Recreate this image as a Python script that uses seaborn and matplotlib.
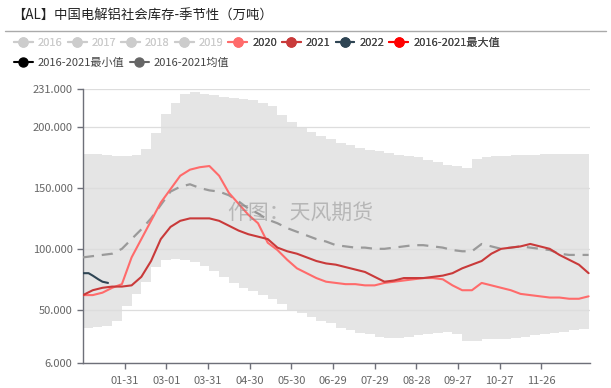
import pandas as pd
import matplotlib
matplotlib.use("Agg")
import matplotlib.pyplot as plt
from matplotlib.lines import Line2D
import seaborn as sns

# weekly sample points (day index in a leap-year category axis, 0 = 01-01)
days = list(range(0, 365, 7))

max_vals = [178, 178, 177, 176, 176, 177, 182, 195, 211, 220, 227, 229, 227, 226,
            225, 224, 223, 222, 220, 217, 210, 204, 200, 196, 193, 190, 187, 185,
            183, 181, 180, 179, 177, 176, 175, 173, 171, 169, 168, 166, 174, 175,
            176, 176, 177, 177, 177, 178, 178, 178, 178, 178, 179]
min_vals = [35, 36, 37, 41, 53, 63, 73, 85, 91, 92, 91, 89, 86, 82,
            77, 72, 68, 65, 62, 59, 55, 50, 47, 44, 41, 39, 35, 33,
            31, 30, 28, 27, 27, 28, 29, 30, 31, 32, 30, 24, 24, 26,
            26, 26, 27, 28, 29, 30, 31, 32, 33, 34, 35]
mean_vals = [93, 94, 95, 96, 100, 108, 116, 125, 136, 147, 151, 153, 150, 148,
             147, 144, 139, 133, 129, 124, 121, 117, 114, 111, 108, 106, 103, 102,
             101, 101, 100, 100, 101, 102, 103, 103, 102, 101, 99, 98, 98, 104,
             102, 100, 101, 102, 101, 100, 99, 96, 95, 95, 95]
y2020 = [62, 62, 64, 68, 71, 93, 108, 123, 138, 149, 160, 165, 167, 168,
         160, 146, 137, 128, 121, 105, 99, 91, 84, 80, 76, 73, 72, 71,
         71, 70, 70, 72, 73, 74, 75, 76, 76, 75, 70, 66, 66, 72,
         70, 68, 66, 63, 62, 61, 60, 60, 59, 59, 61]
y2021 = [62, 66, 68, 69, 69, 70, 77, 90, 108, 118, 123, 125, 125, 125,
         123, 119, 115, 112, 110, 108, 101, 98, 96, 93, 90, 88, 87, 85,
         83, 81, 77, 73, 74, 76, 76, 76, 77, 78, 80, 84, 87, 90,
         96, 100, 101, 102, 104, 102, 100, 95, 91, 87, 80]
days2022 = [0, 4, 7, 11, 14, 18]
y2022 = [80, 80, 78, 75, 73, 72]

tick_days = [30, 60, 90, 120, 150, 180, 210, 240, 270, 300, 330]
y_ticks = [6, 50, 100, 150, 200, 231]

df = pd.DataFrame({"day": days, "max": max_vals, "min": min_vals, "mean": mean_vals,
                   "2020": y2020, "2021": y2021})
df22 = pd.DataFrame({"day": days2022, "2022": y2022})

sns.set_theme(style="white")
plt.rcParams['font.family'] = ['Noto Sans CJK SC', 'DejaVu Sans']

fig = plt.figure(figsize=(6.11, 3.88), dpi=100)
ax = fig.add_axes([83 / 611, 1 - 363.3 / 388, 507 / 611, (363.3 - 89.3) / 388])

# 2016-2021 range band
ax.fill_between(df["day"], df["min"], df["max"], step="post", color="#e5e5e5",
                linewidth=0, zorder=1)
sns.lineplot(data=df, x="day", y="mean", ax=ax, color="#9a9a9a", lw=1.6,
             linestyle=(0, (5, 3.5)), zorder=3)
sns.lineplot(data=df, x="day", y="2020", ax=ax, color="#ff6b6b", lw=1.5, zorder=4)
sns.lineplot(data=df, x="day", y="2021", ax=ax, color="#c93a3a", lw=1.5, zorder=5)
sns.lineplot(data=df22, x="day", y="2022", ax=ax, color="#2f4554", lw=1.5, zorder=6)

ax.set_xlim(0, 365)
ax.set_ylim(6, 231)
ax.set_yticks(y_ticks)
ax.set_yticklabels([f"{v:.3f}" for v in y_ticks])
labels = pd.date_range("2020-01-01", periods=366).strftime("%m-%d")
ax.set_xticks(tick_days)
ax.set_xticklabels([labels[d] for d in tick_days])
ax.set_xlabel("")
ax.set_ylabel("")

ax.set_axisbelow("line")
ax.yaxis.grid(True, color="#dddddd", lw=0.9)
ax.xaxis.grid(False)
for s in ["top", "right"]:
    ax.spines[s].set_visible(False)
for s in ["left", "bottom"]:
    ax.spines[s].set_color("#6e7079")
    ax.spines[s].set_linewidth(1)
ax.tick_params(axis="both", colors="#6e7079", labelcolor="#666666", labelsize=8,
               direction="out", length=4, width=1, left=True, bottom=True)
ax.tick_params(axis="x", pad=5)

ax.text((300 - 83) / 507, (363.3 - 213) / 274, "作图：天风期货", transform=ax.transAxes,
        fontsize=15, color="#888888", alpha=0.5, ha="center", va="center", zorder=10)

fig.text(12 / 611, 1 - 16 / 388, "【AL】中国电解铝社会库存-季节性（万吨）", fontsize=9.6,
         color="#222222", va="center", ha="left")
fig.add_artist(Line2D([5 / 611, 606 / 611], [1 - 31 / 388, 1 - 31 / 388],
                      color="#aaaaaa", lw=1, transform=fig.transFigure))

names1 = ["2016", "2017", "2018", "2019", "2020", "2021", "2022", "2016-2021最大值"]
colors1 = ["#cccccc", "#cccccc", "#cccccc", "#cccccc", "#ff6b6b", "#c93a3a", "#2f4554", "#ff0000"]
names2 = ["2016-2021最小值", "2016-2021均值"]
colors2 = ["#000000", "#666666"]


def make_legend(names, colors, y):
    handles = [Line2D([], [], color=c, lw=1.5, marker="o", markersize=6.5) for c in colors]
    leg = fig.legend(handles, names, loc="center left", bbox_to_anchor=(14 / 611, 1 - y / 388),
                     ncol=len(names), frameon=False, fontsize=8, handlelength=1.7,
                     handletextpad=0.45, columnspacing=0.45, borderpad=0, borderaxespad=0)
    for t, c in zip(leg.get_texts(), colors):
        t.set_color("#cccccc" if c == "#cccccc" else "#444444")
    return leg


leg1 = make_legend(names1, colors1, 43)
fig.add_artist(leg1)
make_legend(names2, colors2, 63)

fig.savefig("out.png", dpi=100)
